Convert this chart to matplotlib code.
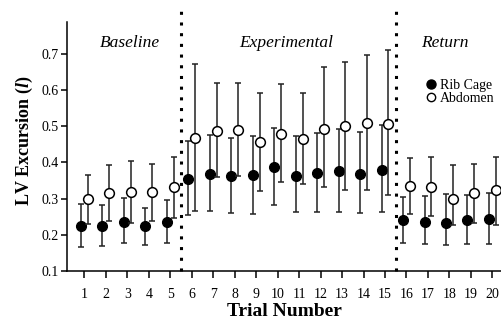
import matplotlib
matplotlib.use("Agg")
import matplotlib.pyplot as plt
from matplotlib.lines import Line2D
import numpy as np

plt.rcParams["font.family"] = ["Liberation Serif", "DejaVu Serif"]
plt.rcParams["mathtext.fontset"] = "custom"
plt.rcParams["mathtext.it"] = "Liberation Serif:bold:italic"
plt.rcParams["mathtext.rm"] = "Liberation Serif:bold"

trials = np.arange(1, 21)

# Rib cage: mean, upper and lower error bar ends
rib_mean = [0.224, 0.225, 0.235, 0.223, 0.234, 0.354, 0.368, 0.361, 0.364, 0.386,
            0.362, 0.371, 0.376, 0.367, 0.379, 0.241, 0.236, 0.233, 0.241, 0.243]
rib_hi = [0.286, 0.283, 0.302, 0.275, 0.295, 0.459, 0.476, 0.467, 0.473, 0.496,
          0.472, 0.480, 0.491, 0.483, 0.502, 0.303, 0.307, 0.312, 0.309, 0.314]
rib_lo = [0.165, 0.169, 0.177, 0.171, 0.177, 0.255, 0.266, 0.259, 0.257, 0.283,
          0.262, 0.262, 0.263, 0.259, 0.262, 0.177, 0.174, 0.171, 0.174, 0.175]

# Abdomen
abd_mean = [0.300, 0.316, 0.318, 0.318, 0.332, 0.468, 0.486, 0.489, 0.457, 0.478,
            0.464, 0.492, 0.500, 0.509, 0.506, 0.335, 0.332, 0.300, 0.314, 0.323]
abd_hi = [0.366, 0.393, 0.404, 0.396, 0.416, 0.670, 0.618, 0.618, 0.591, 0.616,
          0.592, 0.662, 0.676, 0.695, 0.709, 0.412, 0.414, 0.393, 0.396, 0.414]
abd_lo = [0.230, 0.238, 0.232, 0.238, 0.245, 0.266, 0.359, 0.361, 0.321, 0.345,
          0.341, 0.333, 0.323, 0.325, 0.310, 0.257, 0.251, 0.226, 0.232, 0.227]

phases = ["Baseline", "Experimental", "Return"]
phase_x = [3.1, 10.4, 17.8]
boundaries = [5.5, 15.5]

fig = plt.figure(figsize=(5.01, 3.2), dpi=100)
ax = fig.add_axes([0.134, 0.153, 0.866, 0.812])

rib_mean = np.array(rib_mean)
abd_mean = np.array(abd_mean)
rib_err = [rib_mean - np.array(rib_lo), np.array(rib_hi) - rib_mean]
abd_err = [abd_mean - np.array(abd_lo), np.array(abd_hi) - abd_mean]

ax.errorbar(trials - 0.16, rib_mean, yerr=rib_err, fmt="o", color="black",
            ecolor="#222222", elinewidth=1.1, capsize=2, capthick=1.1,
            ms=7, zorder=3)
ax.errorbar(trials + 0.16, abd_mean, yerr=abd_err, fmt="o", mfc="white",
            mec="black", mew=1.1, ecolor="#222222", elinewidth=1.1, capsize=2,
            capthick=1.1, ms=7, zorder=4)

for b in boundaries:
    ax.plot([b, b], [0.1, 0.817], color="black", lw=2.2,
            linestyle=(0, (1, 2.5)), clip_on=False, zorder=2)

for name, px in zip(phases, phase_x):
    ax.text(px, 0.729, name, fontsize=12.5, style="italic", ha="center",
            va="center")

ax.set_xlim(0.2, 20.4)
ax.set_ylim(0.1, 0.817)
ax.set_xticks(trials)
ax.set_yticks([0.1, 0.2, 0.3, 0.4, 0.5, 0.6, 0.7])
ax.set_yticklabels(["0.1", "0.2", "0.3", "0.4", "0.5", "0.6", "0.7"])
ax.tick_params(axis="x", length=5, width=1.1, pad=7, labelsize=10)
ax.tick_params(axis="y", length=4, width=1.1, pad=2, labelsize=10)

for s in ["top", "right"]:
    ax.spines[s].set_visible(False)
ax.spines["left"].set_linewidth(1.1)
ax.spines["bottom"].set_linewidth(1.1)
ax.spines["left"].set_bounds(0.1, 0.786)

ax.set_xlabel("Trial Number", fontsize=14, fontweight="bold", labelpad=2)
ax.set_ylabel(r"LV Excursion ($\mathit{l}$)", fontsize=13, fontweight="bold",
              labelpad=5)

handles = [
    Line2D([], [], ls="none", marker="o", color="black", ms=6.5),
    Line2D([], [], ls="none", marker="o", mfc="white", mec="black", mew=1.0, ms=6),
]
ax.legend(handles, ["Rib Cage", "Abdomen"], loc="upper left",
          bbox_to_anchor=(0.83, 0.74), frameon=False, fontsize=10,
          handlelength=0.6, handletextpad=0.3, labelspacing=0.0,
          borderpad=0, borderaxespad=0)

fig.savefig("out.png", dpi=100)
